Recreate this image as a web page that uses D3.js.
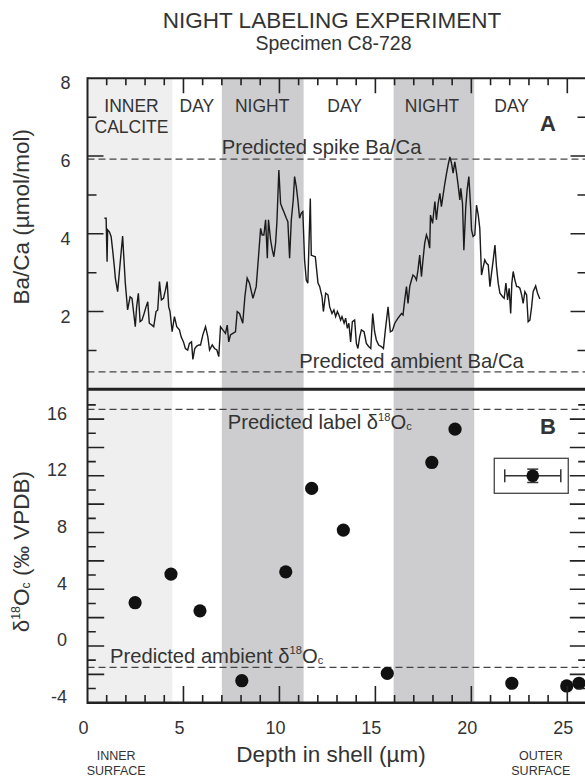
<!DOCTYPE html>
<html>
<head>
<meta charset="utf-8">
<script src="https://cdn.jsdelivr.net/npm/d3@7"></script>
<style>
  body { margin: 0; background: #fff; }
  text { font-family: "Liberation Sans", Arial, sans-serif; fill: #333; }
</style>
</head>
<body>
<div id="chart"></div>
<script>
// depth in shell (um) and Ba/Ca (umol/mol), panel A
const depthBaCa = [0.88,0.97,1.02,1.05,1.14,1.23,1.31,1.40,1.45,1.57,1.70,1.83,1.97,2.09,2.22,2.32,2.41,2.49,2.56,2.65,
  2.74,2.84,2.95,3.05,3.14,3.22,3.36,3.45,3.57,3.66,3.75,3.85,3.96,4.06,4.15,4.23,4.30,4.41,4.53,4.65,
  4.79,4.88,5.00,5.10,5.22,5.31,5.42,5.49,5.59,5.69,5.80,5.89,6.01,6.15,6.27,6.36,6.50,6.62,6.74,6.84,
  6.93,7.05,7.19,7.28,7.36,7.45,7.57,7.71,7.80,7.92,8.09,8.20,8.32,8.44,8.62,8.79,8.91,9.02,9.10,9.19,
  9.28,9.37,9.43,9.54,9.63,9.71,9.80,9.87,9.97,10.06,10.15,10.23,10.36,10.44,10.53,10.62,10.72,10.79,10.88,10.96,
  11.05,11.14,11.22,11.31,11.40,11.48,11.61,11.66,11.75,11.87,12.01,12.10,12.22,12.29,12.41,12.53,12.62,12.74,12.84,12.93,
  13.02,13.10,13.19,13.26,13.37,13.45,13.54,13.62,13.71,13.80,13.92,14.01,14.09,14.18,14.27,14.41,14.53,14.65,14.76,14.86,
  14.96,15.05,15.17,15.31,15.42,15.52,15.66,15.78,15.89,16.01,16.18,16.36,16.44,16.53,16.62,16.70,16.79,16.88,16.96,17.05,
  17.14,17.22,17.31,17.40,17.48,17.57,17.66,17.75,17.83,17.87,17.98,18.10,18.18,18.27,18.36,18.44,18.53,18.62,18.71,18.79,
  18.88,18.97,19.05,19.14,19.23,19.31,19.40,19.45,19.54,19.61,19.71,19.78,19.87,19.96,20.01,20.09,20.18,20.27,20.36,20.44,
  20.53,20.62,20.70,20.79,20.88,20.97,21.05,21.14,21.23,21.31,21.40,21.49,21.63,21.71,21.80,21.89,21.97,22.05,22.11,22.18,
  22.27,22.36,22.44,22.53,22.62,22.70,22.79,22.88,22.96,23.05,23.14,23.22,23.35,23.45,23.57];
const baCa = [4.40,4.40,3.28,4.10,4.05,3.93,3.58,3.15,2.86,2.51,3.24,3.94,2.73,2.04,2.38,2.34,1.95,1.61,2.12,2.47,
  1.74,1.78,1.95,2.12,2.25,1.70,1.65,1.61,2.00,2.04,2.77,2.30,2.34,2.55,2.77,2.12,2.00,1.48,1.87,1.61,
  1.53,1.35,1.22,1.05,1.01,1.18,1.22,0.77,1.05,1.11,1.14,1.14,1.40,1.61,1.35,1.01,1.14,1.05,1.01,0.84,
  1.61,1.53,1.44,1.65,1.22,1.40,1.44,1.48,2.00,1.95,1.70,2.38,2.86,2.73,2.34,2.64,3.41,4.14,3.97,3.97,
  4.36,3.37,4.36,3.84,3.58,3.41,3.76,4.31,5.64,4.78,4.66,4.57,4.40,4.31,3.37,4.36,4.87,5.47,5.21,4.87,
  4.40,4.53,4.57,3.33,2.81,2.73,4.91,3.45,3.43,3.41,2.73,2.64,2.38,2.00,2.47,2.43,2.12,1.95,2.04,1.87,
  2.00,1.91,1.78,1.87,1.70,1.83,1.57,1.70,1.22,1.74,1.78,1.18,1.05,1.35,1.53,1.48,1.18,1.10,1.05,1.95,
  1.48,1.27,1.14,1.10,1.05,1.53,2.12,1.48,1.51,1.70,1.83,1.95,1.91,2.30,2.64,2.21,2.64,2.81,2.94,2.90,
  2.81,3.07,3.45,2.90,3.33,3.76,3.97,3.84,3.63,4.48,4.27,4.83,4.36,4.78,5.04,4.70,5.00,5.30,5.56,5.77,
  5.98,5.81,5.56,5.85,5.56,5.26,4.87,5.17,4.78,3.58,4.70,5.13,5.47,4.70,4.10,3.93,3.97,4.74,4.48,4.14,
  2.94,3.15,3.33,3.24,3.20,2.64,2.98,3.33,3.71,3.15,2.73,2.47,2.38,2.34,2.73,2.30,2.60,1.95,2.73,3.03,
  2.81,2.64,2.64,2.60,2.43,2.21,2.51,2.43,1.74,1.78,2.12,2.51,2.66,2.47,2.32];

// depth and d18O of calcite (per mil VPDB), panel B
const depthO = [2.48, 4.35, 5.86, 8.04, 10.33, 11.68, 13.33, 15.62, 17.94, 19.15, 22.11, 24.97, 25.61];
const d18O = [3.05, 5.07, 2.48, -2.45, 5.23, 11.11, 8.17, -1.93, 12.94, 15.29, -2.63, -2.82, -2.63];

// growth periods (depth ranges)
const innerCalcite = [0, 4.42];
const nightStarts = [7.0, 15.95];
const nightEnds = [11.26, 20.15];
const periodNames = ["DAY", "NIGHT", "DAY", "NIGHT", "DAY"];
const periodCenters = [5.7, 9.1, 13.4, 17.95, 22.1];

// axis tick labels
const xLabels = [0, 5, 10, 15, 20, 25];
const baLabels = [2, 4, 6, 8];
const oLabels = [-4, 0, 4, 8, 12, 16];

// predicted values
const spikeBaCa = 5.92;
const ambientBaCa = 0.45;
const labelO = 16.68;
const ambientO = -1.51;

// typical analytical error (legend)
const errCenter = [23.2, 12.0];
const errDepth = 1.46;
const errO = 0.47;

const width = 585;
const height = 780;
const plotTop = 78.3, plotMid = 389.3, plotBottom = 702.7;

const svg = d3.select('#chart')
  .append('svg')
  .attr('width', width)
  .attr('height', height);

const x = d3.scaleLinear().domain([0, 26]).range([87.5, 586.5]);
const yA = d3.scaleLinear().domain([0, 8]).range([plotMid, plotTop]);
const yB = d3.scaleLinear().domain([-4, 18.1]).range([plotBottom, plotMid]);

/* shaded bands */
svg.append("rect")
  .attr("x", x(innerCalcite[0]))
  .attr("width", x(innerCalcite[1]) - x(innerCalcite[0]))
  .attr("y", plotTop).attr("height", plotBottom - plotTop)
  .attr("fill", "#efefef");
nightStarts.forEach((s, i) => {
  svg.append("rect")
    .attr("x", x(s))
    .attr("width", x(nightEnds[i]) - x(s))
    .attr("y", plotTop).attr("height", plotBottom - plotTop)
    .attr("fill", "#cdcdcf");
});

/* dashed reference lines */
[yA(spikeBaCa), yA(ambientBaCa), yB(labelO), yB(ambientO)].forEach(yy => {
  svg.append("line")
    .attr("x1", x(0)).attr("x2", x(26))
    .attr("y1", yy).attr("y2", yy)
    .attr("stroke", "#444")
    .attr("stroke-width", 1.2)
    .attr("stroke-dasharray", "7,4");
});

const seg = (x1, x2, y1, y2, w, c) => svg.append("line")
  .attr("x1", x1).attr("x2", x2).attr("y1", y1).attr("y2", y2)
  .attr("stroke", c || "#222").attr("stroke-width", w);

/* tick labels */
xLabels.forEach(v => {
  svg.append("text").attr("x", x(v) - 4).attr("y", plotBottom + 31.3)
    .attr("text-anchor", "middle").attr("font-size", 18).text(v);
});
baLabels.forEach(v => {
  svg.append("text").attr("x", x(0) - 17).attr("y", yA(v) + 11)
    .attr("text-anchor", "end").attr("font-size", 18).text(v);
});
oLabels.forEach(v => {
  svg.append("text").attr("x", x(0) - 20.5).attr("y", yB(v) + 0.5)
    .attr("text-anchor", "end").attr("font-size", 18).text(v);
});

/* Ba/Ca line */
const lineBa = d3.line()
  .x((d, i) => x(depthBaCa[i]))
  .y(d => yA(d));
svg.append("path")
  .datum(baCa)
  .attr("fill", "none")
  .attr("stroke", "#1a1a1a")
  .attr("stroke-width", 1.4)
  .attr("d", lineBa);

/* d18O points */
svg.append("g")
  .selectAll("circle")
  .data(d18O)
  .join("circle")
  .attr("cx", (d, i) => x(depthO[i]))
  .attr("cy", d => yB(d))
  .attr("r", 6.6)
  .attr("fill", "#111");

/* error legend */
const ex = x(errCenter[0]), ey = yB(errCenter[1]);
svg.append("rect")
  .attr("x", ex - 38.5).attr("y", ey - 17.5)
  .attr("width", 74).attr("height", 35)
  .attr("fill", "#fff").attr("stroke", "#444").attr("stroke-width", 1.3);
const ex0 = x(errCenter[0] - errDepth), ex1 = x(errCenter[0] + errDepth);
const ey0 = yB(errCenter[1] + errO), ey1 = yB(errCenter[1] - errO);
seg(ex0, ex1, ey, ey, 1.5, "#333");
seg(ex0, ex0, ey - 6.5, ey + 6.5, 1.5, "#333");
seg(ex1, ex1, ey - 6.5, ey + 6.5, 1.5, "#333");
seg(ex, ex, ey0, ey1, 1.5, "#333");
seg(ex - 5.5, ex + 5.5, ey0, ey0, 1.5, "#333");
seg(ex - 5.5, ex + 5.5, ey1, ey1, 1.5, "#333");
svg.append("circle").attr("cx", ex).attr("cy", ey).attr("r", 6.3).attr("fill", "#111");

/* texts */
const addText = (tx, ty, size, str, anchor = "middle") => svg.append("text")
  .attr("x", tx).attr("y", ty).attr("text-anchor", anchor)
  .attr("font-size", size).text(str);

addText(332, 27.5, 22.5, "NIGHT LABELING EXPERIMENT");
addText(333.5, 49.5, 19.5, "Specimen C8-728");

addText(131.5, 111.7, 17.5, "INNER");
addText(131.5, 132.7, 17.5, "CALCITE");
periodNames.forEach((name, i) => addText(x(periodCenters[i]), 111.7, 17.5, name));

addText(548, 131, 22, "A").attr("font-weight", "bold").attr("fill", "#222");
addText(548, 434.3, 22, "B").attr("font-weight", "bold").attr("fill", "#222");

addText(221.7, 154.3, 20.2, "Predicted spike Ba/Ca", "start");
addText(299.3, 368.3, 20.2, "Predicted ambient Ba/Ca", "start");

const deltaText = (t, lead, big) => {
  t.append("tspan").text(lead);
  t.append("tspan").attr("font-size", big * 0.55).attr("dy", -big * 0.42).text("18");
  t.append("tspan").attr("dy", big * 0.42).text("O");
  t.append("tspan").attr("font-size", big * 0.55).attr("dy", 1).text("c");
  return t;
};
deltaText(svg.append("text").attr("x", 227.7).attr("y", 429.3).attr("font-size", 20.2),
  "Predicted label δ", 20.2);
deltaText(svg.append("text").attr("x", 110).attr("y", 662.7).attr("font-size", 20.2),
  "Predicted ambient δ", 20.2);

svg.append("text")
  .attr("transform", "rotate(-90)")
  .attr("x", -216.7).attr("y", 29)
  .attr("text-anchor", "middle").attr("font-size", 22.5)
  .text("Ba/Ca (µmol/mol)");
const yLabB = svg.append("text")
  .attr("transform", "rotate(-90)")
  .attr("x", -551.7).attr("y", 29)
  .attr("text-anchor", "middle").attr("font-size", 22.5);
deltaText(yLabB, "δ", 22.5);
yLabB.append("tspan").attr("dy", -1).text(" (‰ VPDB)");

addText(331, 761.7, 22.5, "Depth in shell (µm)");

addText(116.2, 760, 12.5, "INNER");
addText(116.2, 775, 12.5, "SURFACE");
addText(540.8, 760, 12.5, "OUTER");
addText(540.8, 775, 12.5, "SURFACE");

/* ticks, as one path drawn on top */
const tickPath = d3.path();
const tk = (x1, y1, x2, y2) => { tickPath.moveTo(x1, y1); tickPath.lineTo(x2, y2); };
d3.range(1, 26).forEach(v => {
  const major = v % 5 === 0;
  tk(x(v), plotTop, x(v), plotTop + (major ? 15 : 7));
  tk(x(v), plotBottom, x(v), plotBottom - (major ? 16.7 : 7.7));
});
d3.range(1, 8).forEach(v => {
  const len = v % 2 === 0 ? 16 : 9;
  tk(x(0), yA(v), x(0) + len, yA(v));
  tk(x(26), yA(v), x(26) - len, yA(v));
});
d3.range(-3, 18).forEach(v => {
  const len = v % 2 === 0 ? 16.7 : 8.3;
  tk(x(0), yB(v), x(0) + len, yB(v));
  tk(x(26), yB(v), x(26) - len, yB(v));
});
svg.append("path")
  .attr("d", tickPath.toString())
  .attr("fill", "none")
  .attr("stroke", "#222")
  .attr("stroke-width", 1.6);

/* frame */
seg(x(0), x(26), plotTop, plotTop, 2);
seg(x(0), x(26), plotBottom, plotBottom, 2.5);
seg(x(0), x(26), plotMid, plotMid, 3);
seg(x(0), x(0), plotTop - 1, plotBottom + 1.2, 2);
seg(x(26), x(26), plotTop - 1, plotBottom + 1.2, 2);
</script>
</body>
</html>
